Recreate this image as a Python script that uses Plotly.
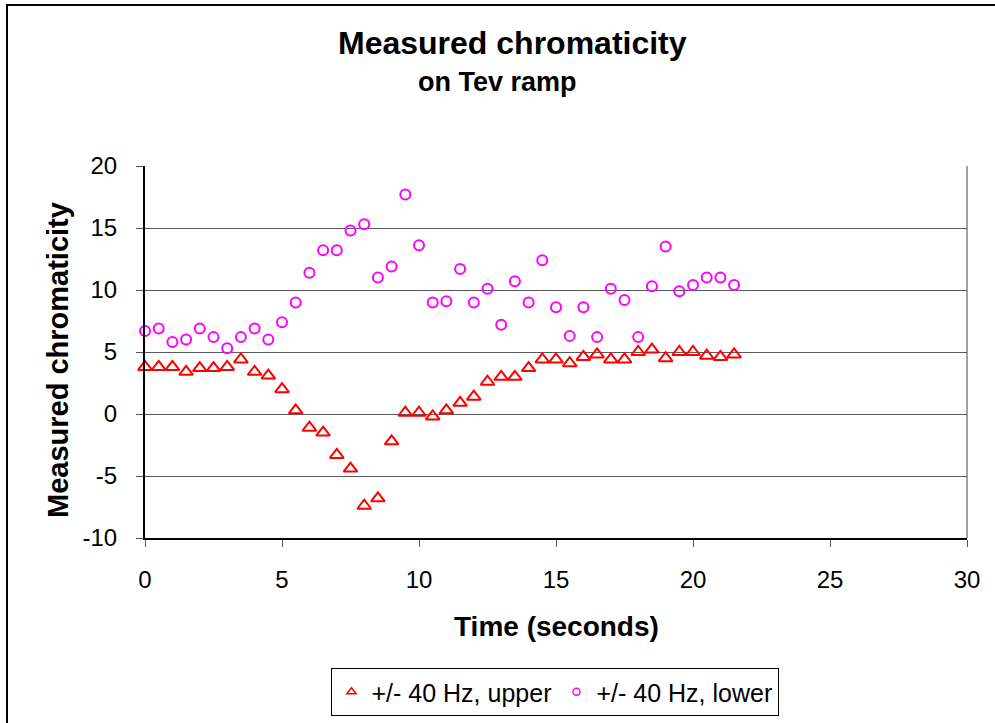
import plotly.graph_objects as go

time_s = [0, 0.5, 1, 1.5, 2, 2.5, 3, 3.5, 4, 4.5, 5, 5.5, 6, 6.5, 7, 7.5, 8, 8.5, 9, 9.5,
          10, 10.5, 11, 11.5, 12, 12.5, 13, 13.5, 14, 14.5, 15, 15.5, 16, 16.5, 17, 17.5,
          18, 18.5, 19, 19.5, 20, 20.5, 21, 21.5]
upper = [3.8, 3.8, 3.8, 3.4, 3.7, 3.7, 3.8, 4.4, 3.4, 3.1, 2.0, 0.3, -1.1, -1.5, -3.3, -4.4,
         -7.4, -6.8, -2.2, 0.1, 0.1, -0.2, 0.3, 0.9, 1.4, 2.6, 3.0, 3.0, 3.7, 4.4, 4.4, 4.1,
         4.6, 4.8, 4.4, 4.4, 5.0, 5.2, 4.5, 5.0, 5.0, 4.7, 4.6, 4.8]
lower = [6.7, 6.9, 5.8, 6.0, 6.9, 6.2, 5.3, 6.2, 6.9, 6.0, 7.4, 9.0, 11.4, 13.2, 13.2, 14.8,
         15.3, 11.0, 11.9, 17.7, 13.6, 9.0, 9.1, 11.7, 9.0, 10.1, 7.2, 10.7, 9.0, 12.4, 8.6, 6.3,
         8.6, 6.2, 10.1, 9.2, 6.2, 10.3, 13.5, 9.9, 10.4, 11.0, 11.0, 10.4]

series_names = ["+/- 40 Hz, upper", "+/- 40 Hz, lower"]
y_tick_vals = [-10, -5, 0, 5, 10, 15, 20]
y_tick_text = ["-10", "-5", "0", "5", "10", "15", "20"]
x_tick_vals = [0, 5, 10, 15, 20, 25, 30]
x_tick_text = ["0", "5", "10", "15", "20", "25", "30"]
title_text = "<b>Measured chromaticity</b>"
subtitle_text = "<b>on Tev ramp</b>"
x_title = "<b>Time (seconds)</b>"
y_title = "<b>Measured chromaticity</b>"

FONT = "Liberation Sans, Arial, sans-serif"
RED = "#FF0000"
MAG = "#FF00FF"

fig = go.Figure()
fig.add_trace(go.Scatter(x=time_s, y=upper, mode="markers", showlegend=False, cliponaxis=False,
                         marker=dict(symbol="triangle-up-open", size=12, color=RED,
                                     line=dict(width=2, color=RED))))
fig.add_trace(go.Scatter(x=time_s, y=lower, mode="markers", showlegend=False, cliponaxis=False,
                         marker=dict(symbol="circle-open", size=10, color=MAG,
                                     line=dict(width=2, color=MAG))))
# legend entries (smaller symbols as in reference)
fig.add_trace(go.Scatter(x=[None], y=[None], mode="markers", name=series_names[0],
                         marker=dict(symbol="triangle-up-open", size=8, color=RED,
                                     line=dict(width=1.5, color=RED))))
fig.add_trace(go.Scatter(x=[None], y=[None], mode="markers", name=series_names[1],
                         marker=dict(symbol="circle-open", size=7, color=MAG,
                                     line=dict(width=1.5, color=MAG))))

L, R, T, B = 145, 28, 166, 185
W, H = 995, 723
pw, ph = W - L - R, H - T - B

def px_x(p):
    return (p - L) / pw

def px_y(p):
    return (H - B - p) / ph

fig.update_layout(
    width=W, height=H,
    margin=dict(l=L, r=R, t=T, b=B, pad=0, autoexpand=False),
    paper_bgcolor="white", plot_bgcolor="white",
    font=dict(family=FONT, color="black", size=24),
    legend=dict(orientation="h", xref="container", yref="container",
                x=554.5 / W, xanchor="center", y=(H - 668) / H, yanchor="top",
                bordercolor="black", borderwidth=1, font=dict(size=25),
                itemwidth=30, tracegroupgap=0),
    xaxis=dict(range=[0, 30], tickvals=x_tick_vals, ticktext=x_tick_text,
               showgrid=False, zeroline=False, automargin=False,
               showline=True, linecolor="black", linewidth=1.5,
               ticks="outside", ticklen=7, tickcolor="#555", tickwidth=1,
               tickfont=dict(size=24), ticklabelstandoff=12),
    yaxis=dict(range=[-10, 20], tickvals=y_tick_vals, ticktext=y_tick_text,
               showgrid=True, gridcolor="#5a5a5a", automargin=False,
               gridwidth=1, zeroline=False,
               showline=True, linecolor="black", linewidth=2,
               ticks="outside", ticklen=7, tickcolor="#555", tickwidth=1,
               tickfont=dict(size=24), ticklabelstandoff=14),
    annotations=[
        dict(text=title_text, x=px_x(512), y=px_y(43), xref="paper", yref="paper",
             xanchor="center", yanchor="middle", showarrow=False, font=dict(size=32)),
        dict(text=subtitle_text, x=px_x(497.5), y=px_y(82), xref="paper", yref="paper",
             xanchor="center", yanchor="middle", showarrow=False, font=dict(size=27)),
        dict(text=x_title, x=px_x(556), y=px_y(626), xref="paper", yref="paper",
             xanchor="center", yanchor="middle", showarrow=False, font=dict(size=28)),
        dict(text=y_title, x=px_x(58), y=px_y(360), xref="paper", yref="paper",
             xanchor="center", yanchor="middle", showarrow=False, textangle=-90,
             font=dict(size=29)),
    ],
    shapes=[
        dict(type="line", xref="paper", yref="paper", x0=1, x1=1, y0=0, y1=1,
             line=dict(color="#444", width=1)),
        dict(type="rect", xref="paper", yref="paper", x0=px_x(7), x1=px_x(1010),
             y0=px_y(740), y1=px_y(5), line=dict(color="black", width=2), layer="below"),
    ],
)

fig.write_html("out.html")
